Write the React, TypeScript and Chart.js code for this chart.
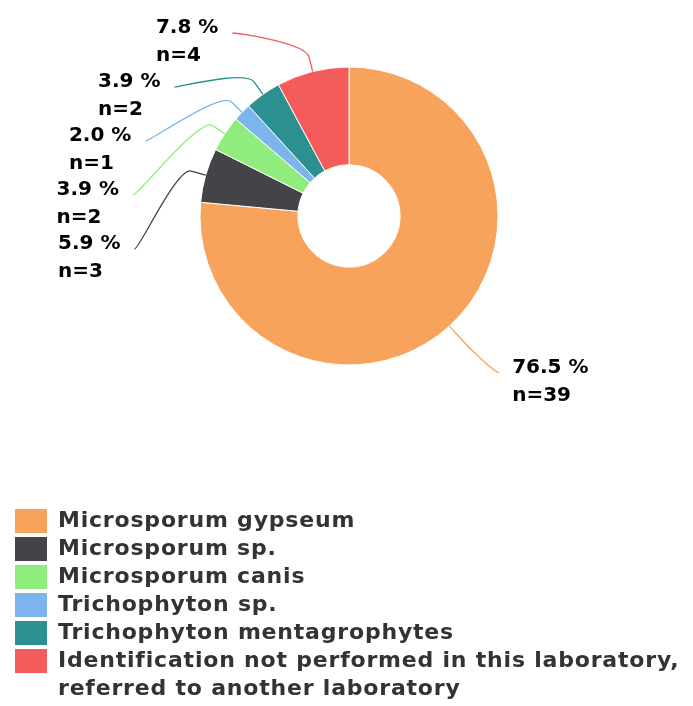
import React, { useEffect, useRef } from "react";
import { Chart, registerables } from "chart.js";

Chart.register(...registerables);

const categories: string[] = [
  "Microsporum gypseum",
  "Microsporum sp.",
  "Microsporum canis",
  "Trichophyton sp.",
  "Trichophyton mentagrophytes",
  "Identification not performed in this laboratory, referred to another laboratory",
];
const legendLines: string[][] = [
  ["Microsporum gypseum"],
  ["Microsporum sp."],
  ["Microsporum canis"],
  ["Trichophyton sp."],
  ["Trichophyton mentagrophytes"],
  ["Identification not performed in this laboratory,", "referred to another laboratory"],
];
const counts: number[] = [39, 3, 2, 1, 2, 4];
const colors: string[] = ["#f7a35c", "#434348", "#90ed7d", "#7cb5ec", "#2b908f", "#f45b5b"];

const FONT = "'DejaVu Sans', sans-serif";

const calloutPlugin = {
  id: "callouts",
  afterDatasetsDraw(chart: any) {
    const meta = chart.getDatasetMeta(0);
    const ctx: CanvasRenderingContext2D = chart.ctx;
    const total = counts.reduce((a, b) => a + b, 0);
    const items: any[] = [];
    meta.data.forEach((arc: any, i: number) => {
      const p = arc.getProps(["x", "y", "startAngle", "endAngle", "outerRadius"], true);
      const mid = (p.startAngle + p.endAngle) / 2;
      const r = p.outerRadius;
      const side = Math.cos(mid) >= 0 ? 1 : -1;
      items.push({
        i,
        cx: p.x,
        cy: p.y,
        r,
        mid,
        side,
        ny: p.y + Math.sin(mid) * (r + 63),
      });
    });
    const minY = 33;
    const gap = 54;
    const R = 217;
    [1, -1].forEach((s) => {
      const group = items.filter((it) => it.side === s).sort((a, b) => a.ny - b.ny);
      let prev = -Infinity;
      group.forEach((it) => {
        const y = Math.max(it.ny, minY, prev + gap);
        it.ly = y;
        prev = y;
        const dy = Math.min(Math.abs(y - it.cy), R);
        it.lx = it.cx + s * Math.sqrt(R * R - dy * dy);
      });
    });
    ctx.save();
    items.forEach((it) => {
      const tx = it.cx + Math.cos(it.mid) * it.r;
      const ty = it.cy + Math.sin(it.mid) * it.r;
      const bx = it.cx + Math.cos(it.mid) * (it.r + 15);
      const by = it.cy + Math.sin(it.mid) * (it.r + 15);
      ctx.beginPath();
      ctx.moveTo(it.lx, it.ly);
      ctx.bezierCurveTo(it.lx - it.side * 5, it.ly, 2 * bx - tx, 2 * by - ty, bx, by);
      ctx.lineTo(tx, ty);
      ctx.strokeStyle = colors[it.i];
      ctx.lineWidth = 1.3;
      ctx.stroke();

      const pct = ((counts[it.i] / total) * 100).toFixed(1) + " %";
      const nTxt = "n=" + counts[it.i];
      ctx.font = `bold 20px ${FONT}`;
      ctx.fillStyle = "#000000";
      ctx.textBaseline = "middle";
      ctx.textAlign = "left";
      const w = Math.max(ctx.measureText(pct).width, ctx.measureText(nTxt).width);
      const left = it.side > 0 ? it.lx + 13 : it.lx - 14 - w;
      ctx.fillText(pct, left, it.ly - 5);
      ctx.fillText(nTxt, left, it.ly + 23);
    });
    ctx.restore();
  },
  afterDraw(chart: any) {
    const ctx: any = chart.ctx;
    ctx.save();
    let y = 509;
    const rowH = 28;
    ctx.font = `bold 22px ${FONT}`;
    ctx.letterSpacing = "0.8px";
    ctx.textBaseline = "middle";
    ctx.textAlign = "left";
    legendLines.forEach((lines, i) => {
      ctx.fillStyle = colors[i];
      ctx.fillRect(15, y, 32, 24);
      ctx.fillStyle = "#333333";
      lines.forEach((ln, k) => {
        ctx.fillText(ln, 58, y + 12 + k * rowH);
      });
      y += rowH * lines.length;
    });
    ctx.restore();
  },
};

export default function App() {
  const ref = useRef<HTMLCanvasElement | null>(null);
  useEffect(() => {
    if (!ref.current) return;
    const chart = new Chart(ref.current, {
      type: "doughnut",
      data: {
        labels: categories,
        datasets: [
          {
            data: counts,
            backgroundColor: colors,
            borderColor: "#ffffff",
            borderWidth: 1,
            hoverOffset: 0,
          },
        ],
      },
      options: {
        animation: false,
        responsive: true,
        maintainAspectRatio: false,
        radius: 149,
        cutout: 51,
        layout: { padding: { left: 200, right: 195, top: 67, bottom: 341 } },
        plugins: {
          legend: { display: false },
          tooltip: { enabled: false },
        },
      },
      plugins: [calloutPlugin],
    } as any);
    return () => chart.destroy();
  }, []);
  return (
    <div style={{ position: "fixed", left: 0, top: 0, width: 693, height: 706, background: "#fff" }}>
      <canvas ref={ref} />
    </div>
  );
}
